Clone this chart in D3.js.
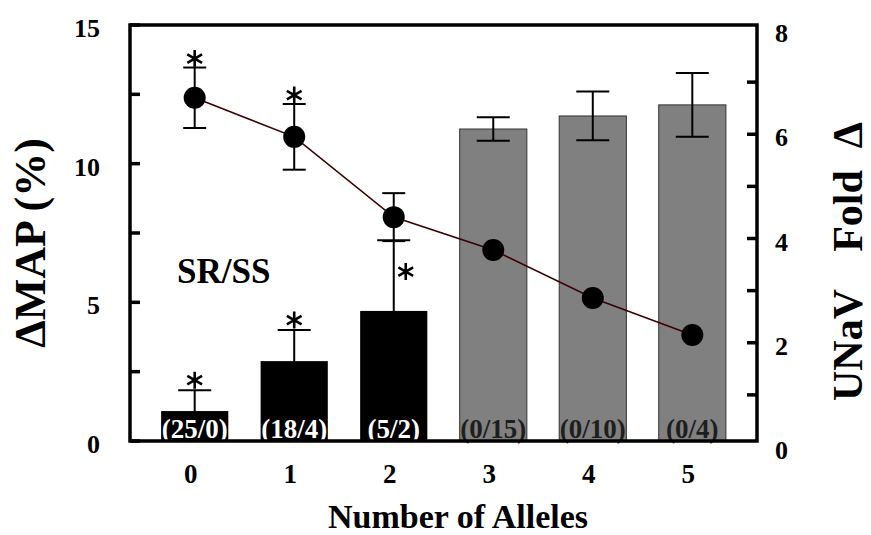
<!DOCTYPE html>
<html>
<head>
<meta charset="utf-8">
<script src="https://cdn.jsdelivr.net/npm/d3@7"></script>
<style>
  html, body { margin: 0; padding: 0; background: #fff; }
  svg { display: block; }
</style>
</head>
<body>
<svg id="chart" width="871" height="535"></svg>
<script>
// Number of alleles on the x axis
const categories = ["0", "1", "2", "3", "4", "5"];
// Change in mean arterial pressure (%): bars, left axis
const mapMean = [1.08, 2.88, 4.69, 11.25, 11.72, 12.12];
const mapErr  = [0.75, 1.12, 2.55, 0.42, 0.88, 1.15];
// Fold change in urinary sodium excretion: points, right axis
const unavMean = [6.70, 5.95, 4.41, 3.78, 2.86, 2.15];
const unavErr  = [0.58, 0.63, 0.46, 0, 0, 0];
// Group counts written inside each bar
const counts = ["(25/0)", "(18/4)", "(5/2)", "(0/15)", "(0/10)", "(0/4)"];
// Genotype group of each bar
const barGroup = ["SR", "SR", "SR", "SS", "SS", "SS"];
// Significance flags
const sigMap  = [true, true, true, false, false, false];
const sigUnav = [true, true, false, false, false, false];
// Axis ticks
const leftTicks = [0, 5, 10, 15];
const leftMinor = [2.5, 7.5, 12.5];
const rightTicks = [0, 2, 4, 6, 8];
const rightMinor = [1, 3, 5, 7];

const FONT = "Liberation Serif";
const svg = d3.select("#chart");

const plotL = 130, plotR = 757, plotT = 25, plotB = 441;

const x = d3.scaleLinear().domain([-0.65, 5.65]).range([plotL, plotR]);
const yL = d3.scaleLinear().domain([0, 15]).range([plotB, plotT]);
const yR = d3.scaleLinear().domain([0, 8]).range([447, 30]);
const step = x(1) - x(0);
const barW = step * 0.675;
const fill = d => d === "SR" ? "#000" : "#808080";

const idx = d3.range(categories.length);

// six-spoke asterisk centred on (cx, cy)
function star(cx, cy) {
  const r = 8.5;
  const p = d3.path();
  [90, 30, 150].forEach(a => {
    const t = a * Math.PI / 180;
    p.moveTo(cx - r * Math.cos(t), cy - r * Math.sin(t));
    p.lineTo(cx + r * Math.cos(t), cy + r * Math.sin(t));
  });
  svg.append("path").attr("d", p.toString())
    .attr("stroke", "#000").attr("stroke-width", 2.6).attr("fill", "none");
}

// bars
svg.append("g").selectAll("rect").data(idx).join("rect")
  .attr("x", i => x(i) - barW / 2)
  .attr("y", i => yL(mapMean[i]))
  .attr("width", barW)
  .attr("height", i => yL(0) - yL(mapMean[i]))
  .attr("fill", i => fill(barGroup[i]))
  .attr("stroke", i => barGroup[i] === "SR" ? "none" : "#333")
  .attr("stroke-width", 1);

// bar error bars
const be = svg.append("g").attr("stroke", "#000").attr("stroke-width", 2);
idx.forEach(i => {
  const hi = yL(mapMean[i] + mapErr[i]), lo = yL(mapMean[i] - mapErr[i]);
  const cx = x(i), hw = 16.5;
  be.append("line").attr("x1", cx).attr("x2", cx).attr("y1", hi).attr("y2", lo);
  be.append("line").attr("x1", cx - hw).attr("x2", cx + hw).attr("y1", hi).attr("y2", hi);
  be.append("line").attr("x1", cx - hw).attr("x2", cx + hw).attr("y1", lo).attr("y2", lo);
});

// counts inside bars
svg.append("g").selectAll("text").data(idx).join("text")
  .attr("x", i => x(i))
  .attr("y", 438)
  .attr("text-anchor", "middle")
  .attr("font-size", 27)
  .attr("fill", i => barGroup[i] === "SR" ? "#fff" : "#1e1e1e")
  .text(i => counts[i]);

// significance marks on bars
idx.filter(i => sigMap[i]).forEach(i => {
  const capY = yL(mapMean[i] + mapErr[i]);
  const long = mapErr[i] > 2;
  if (long) star(x(i) + 12, (capY + yL(mapMean[i])) / 2 - 4);
  else star(x(i), capY - 10);
});

// UNaV line
const line = d3.line().x((d, i) => x(i)).y(d => yR(d));
svg.append("path").datum(unavMean)
  .attr("d", line)
  .attr("fill", "none")
  .attr("stroke", "#3c0000")
  .attr("stroke-width", 1.6);

// UNaV error bars
const pe = svg.append("g").attr("stroke", "#000").attr("stroke-width", 2);
idx.filter(i => unavErr[i] > 0).forEach(i => {
  const hi = yR(unavMean[i] + unavErr[i]), lo = yR(unavMean[i] - unavErr[i]);
  const cx = x(i), hw = 11.5;
  pe.append("line").attr("x1", cx).attr("x2", cx).attr("y1", hi).attr("y2", lo);
  pe.append("line").attr("x1", cx - hw).attr("x2", cx + hw).attr("y1", hi).attr("y2", hi);
  pe.append("line").attr("x1", cx - hw).attr("x2", cx + hw).attr("y1", lo).attr("y2", lo);
});

// UNaV markers
svg.append("g").selectAll("circle").data(idx).join("circle")
  .attr("cx", i => x(i))
  .attr("cy", i => yR(unavMean[i]))
  .attr("r", 11)
  .attr("fill", "#000");

// significance marks on points
idx.filter(i => sigUnav[i]).forEach(i => {
  star(x(i), yR(unavMean[i] + unavErr[i]) - 9);
});

// frame
svg.append("path")
  .attr("d", `M${plotL},${plotT}H${plotR}V${plotB}H${plotL}Z`)
  .attr("stroke", "#000").attr("stroke-width", 3.5).attr("fill", "none");

// left axis ticks (inward)
const lt = svg.append("g").attr("stroke", "#000").attr("stroke-width", 3.5);
leftTicks.concat(leftMinor).forEach(v => {
  lt.append("line").attr("x1", plotL).attr("x2", plotL + 10).attr("y1", yL(v)).attr("y2", yL(v));
});
svg.append("g").selectAll("text").data(leftTicks).join("text")
  .attr("x", 100).attr("y", d => yL(d) + 12)
  .attr("text-anchor", "end").attr("font-size", 26)
  .text(d => d);

// right axis ticks (inward)
const rt = svg.append("g").attr("stroke", "#000").attr("stroke-width", 3.5);
rightTicks.concat(rightMinor).filter(v => v > 0 && v < 8).forEach(v => {
  rt.append("line").attr("x1", plotR - 10).attr("x2", plotR).attr("y1", yR(v)).attr("y2", yR(v));
});
svg.append("g").selectAll("text").data(rightTicks).join("text")
  .attr("x", 775).attr("y", d => yR(d) + 12)
  .attr("text-anchor", "start").attr("font-size", 26)
  .text(d => d);

// x tick labels
svg.append("g").selectAll("text").data(idx).join("text")
  .attr("x", i => x(i) - 4).attr("y", 483)
  .attr("text-anchor", "middle").attr("font-size", 27)
  .text(i => categories[i]);

// axis titles
svg.append("text").attr("x", 458).attr("y", 528)
  .attr("text-anchor", "middle").attr("font-size", 34)
  .text("Number of Alleles");

svg.append("text")
  .attr("transform", "translate(45,243) rotate(-90)")
  .attr("text-anchor", "middle").attr("font-size", 44)
  .text("\u0394MAP (%)");

const rTitle = svg.append("g");
[["UNaV", 345], ["Fold", 211], ["\u0394", 135]].forEach(([t, cy]) => {
  rTitle.append("text")
    .attr("transform", `translate(862,${cy}) rotate(-90)`)
    .attr("text-anchor", "middle").attr("font-size", 42)
    .text(t);
});

// group label
svg.append("text").attr("x", 177).attr("y", 283)
  .attr("font-size", 35).text("SR/SS");

// serif bold type on every label
svg.selectAll("text")
  .attr("font-family", FONT)
  .attr("font-weight", "bold");
</script>
</body>
</html>
